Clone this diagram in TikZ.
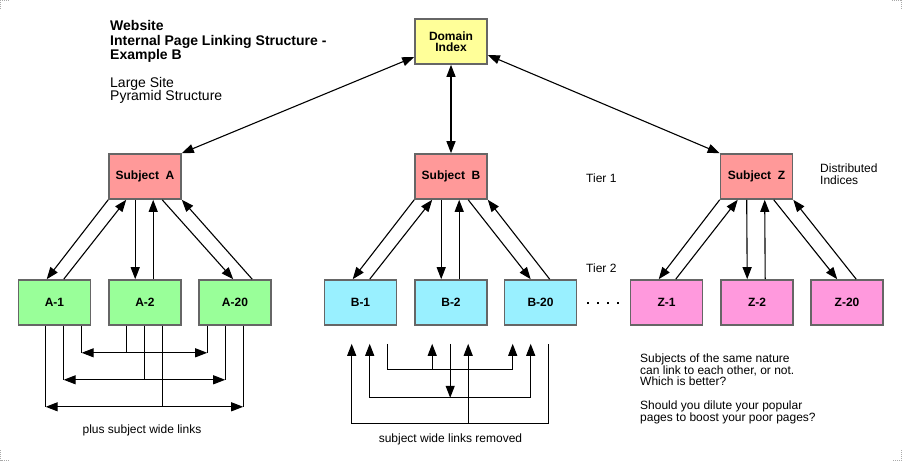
\documentclass[tikz,border=0pt]{standalone}
\usepackage{fontspec}
\setmainfont{Liberation Sans}
\usetikzlibrary{arrows.meta,calc}
\definecolor{cyel}{HTML}{FFFF99}
\definecolor{csub}{HTML}{FF9999}
\definecolor{cgrn}{HTML}{99FF99}
\definecolor{ccyn}{HTML}{99F0FF}
\definecolor{cmag}{HTML}{FF99DD}
\definecolor{cbrd}{HTML}{666666}
\definecolor{cmark}{HTML}{AAAAAA}
\begin{document}
\begin{tikzpicture}[x=1pt,y=-1pt,
  box/.style={draw=cbrd,line width=1.6pt,minimum width=72pt,minimum height=45pt,inner sep=0pt,align=center,font=\fontsize{12}{11.5}\selectfont\bfseries},
  linkln/.style={line width=1.1pt,-{Triangle[length=12pt,width=9pt]}},
  dlinkln/.style={line width=1.1pt,{Triangle[length=12pt,width=9pt]}-{Triangle[length=12pt,width=9pt]}},
  rlinkln/.style={line width=1.1pt,{Triangle[length=12pt,width=9pt]}-},
  plainln/.style={line width=1.1pt},
  notetxt/.style={inner sep=0pt,align=left,font=\fontsize{12}{11.7}\selectfont},
  cornermark/.style={draw=cmark,line width=1pt,dash pattern=on 1pt off 1pt}
]
\useasboundingbox (0,0) rectangle (902,461);

% corner marks
\draw[cornermark] (0,0.5) -- (10,0.5); \draw[cornermark] (0.5,0) -- (0.5,10);
\draw[cornermark] (892,0.5) -- (901.5,0.5); \draw[cornermark] (901.5,0) -- (901.5,10);
\draw[cornermark] (0.5,450) -- (0.5,460.5) -- (10,460.5);
\draw[cornermark] (901.5,450) -- (901.5,460.5) -- (892,460.5);

% title
\node[inner sep=0pt,anchor=north west,align=left,font=\fontsize{14}{14.3}\selectfont\bfseries] (title) at (110,20.5)
  {Website\\Internal Page Linking Structure -\\Example B};
\node[inner sep=0pt,anchor=north west,align=left,font=\fontsize{14}{13.3}\selectfont] (sub) at (110,77)
  {Large Site\\Pyramid Structure};

% boxes
\node[box,fill=cyel] (DI) at (451,41.5) {Domain\\Index};
\node[box,fill=csub] (SA) at (145,176.5) {Subject\ \ A};
\node[box,fill=csub] (SB) at (451,176.5) {Subject\ \ B};
\node[box,fill=csub] (SZ) at (756.5,176.5) {Subject\ \ Z};

\node[box,fill=cgrn] (A1) at (54.5,302.5) {A-1};
\node[box,fill=cgrn] (A2) at (145,302.5) {A-2};
\node[box,fill=cgrn] (A20) at (235,302.5) {A-20};
\node[box,fill=ccyn] (B1) at (360.5,302.5) {B-1};
\node[box,fill=ccyn] (B2) at (451,302.5) {B-2};
\node[box,fill=ccyn] (B20) at (540.5,302.5) {B-20};
\node[box,fill=cmag] (Z1) at (666.5,302.5) {Z-1};
\node[box,fill=cmag] (Z2) at (757,302.5) {Z-2};
\node[box,fill=cmag] (Z20) at (847,302.5) {Z-20};

% labels
\node[notetxt,anchor=west] (t1) at (586,178) {Tier 1};
\node[notetxt,anchor=west] (t2) at (586,268) {Tier 2};
\node[notetxt,anchor=north west,font=\fontsize{12}{12}\selectfont] (dist) at (820,164) {Distributed\\Indices};
\node[notetxt,anchor=center] (plus) at (142,430) {plus subject wide links};
\node[notetxt,anchor=center] (rem) at (450.5,439) {subject wide links removed};
\node[notetxt,anchor=north west] (q) at (640,353.5)
  {Subjects of the same nature\\can link to each other, or not.\\Which is better?\\[12pt]Should you dilute your popular\\pages to boost your poor pages?};

% dots
\foreach \x in {588,598,608,618} \fill (\x-1.2,301.8) rectangle (\x+1.2,304.2);

% domain links
\draw[dlinkln] ([yshift=-15.5pt]DI.west) -- (SA.north east);
\draw[dlinkln] (DI.south) -- (SB.north);
\draw[dlinkln] ([yshift=-13.5pt]DI.east) -- (SZ.north west);

% subject to page links
\foreach \p/\u/\v/\w/\m/\n in {SA/A1/A2/A20/35/54, SB/B1/B2/B20/27/46, SZ/Z1/Z2/Z20/27/46}{
  \draw[linkln] (\p.south west) -- ([xshift=29pt]\u.north west);
  \draw[linkln] ([xshift=46pt]\u.north west) -- ([xshift=18pt]\p.south west);
  \draw[linkln] ([xshift=27pt]\p.south west) -- ([xshift=27pt]\v.north west);
  \draw[linkln] ([xshift=45pt]\v.north west) -- ([xshift=45pt]\p.south west);
  \draw[linkln] ([xshift=54pt]\p.south west) -- ([xshift=\m pt]\w.north west);
  \draw[linkln] ([xshift=\n pt]\w.north west) -- (\p.south east);
}

% subject wide links (A)
\foreach \a/\b/\c/\d in {64/18/9/27, 46/36/27/54, 28/54/45/81}{
  \draw[plainln] ([xshift=\a pt]A1.south west) -- ++(0,\d) coordinate (L);
  \draw[plainln] ([xshift=\c pt]A20.south west) -- ++(0,\d) coordinate (R);
  \draw[plainln] ([xshift=\b pt]A2.south west) -- ++(0,\d) coordinate (M);
  \draw[linkln] (M) -- (L);
  \draw[linkln] (M) -- (R);
}

% subject wide links removed (B)
\coordinate (b1a) at ([xshift=28pt,yshift=-18pt]B1.south west);
\coordinate (b1b) at ([xshift=46pt,yshift=-18pt]B1.south west);
\coordinate (b1c) at ([xshift=64pt,yshift=-18pt]B1.south west);
\coordinate (b2a) at ([xshift=18pt,yshift=-18pt]B2.south west);
\coordinate (b2b) at ([xshift=36pt,yshift=-18pt]B2.south west);
\coordinate (b2c) at ([xshift=54pt,yshift=-18pt]B2.south west);
\coordinate (b20a) at ([xshift=9pt,yshift=-18pt]B20.south west);
\coordinate (b20b) at ([xshift=27pt,yshift=-18pt]B20.south west);
\coordinate (b20c) at ([xshift=45pt,yshift=-18pt]B20.south west);

\draw[linkln] (b1c) -- ([yshift=-26pt]b1c) -| (b20a);
\draw[linkln] ([yshift=-26pt]b2a) -- (b2a);
\draw[dlinkln] (b1b) |- ([yshift=-54pt]b2b) -| (b20b);
\draw[linkln] (b2b) -- ([yshift=-54pt]b2b);
\draw[rlinkln] (b1a) |- ([yshift=-80pt]b20c) -- (b20c);
\draw[linkln] ([yshift=-80pt]b2c) -- (b2c);
\end{tikzpicture}
\end{document}
